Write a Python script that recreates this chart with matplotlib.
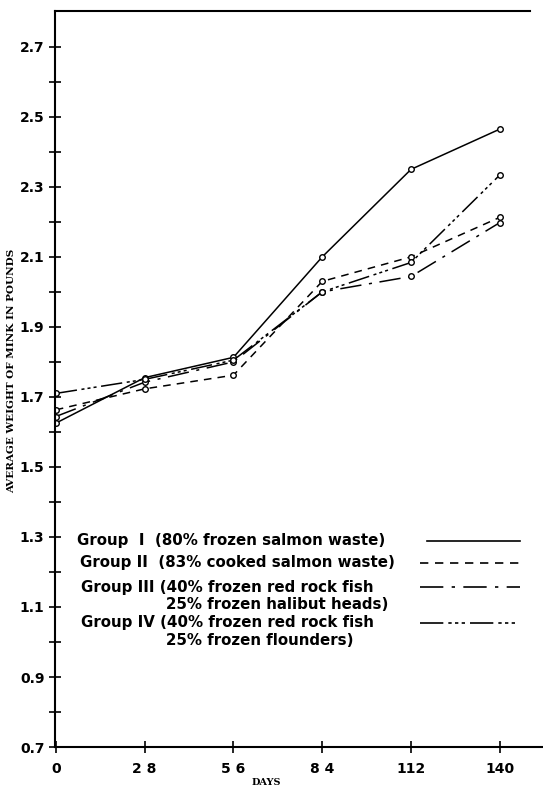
import matplotlib
matplotlib.use("Agg")
import matplotlib.pyplot as plt
import numpy as np

# Average weight of mink (lb) by day
days = [0, 28, 56, 84, 112, 140]
group_1 = [1.625, 1.755, 1.813, 2.10, 2.35, 2.465]
group_2 = [1.663, 1.723, 1.762, 2.03, 2.10, 2.213]
group_3 = [1.644, 1.742, 1.800, 2.00, 2.044, 2.198]
group_4 = [1.710, 1.750, 1.805, 2.00, 2.084, 2.334]

first_lines = [
    "Group  I  (80% frozen salmon waste)",
    "Group II  (83% cooked salmon waste)",
    "Group III (40% frozen red rock fish",
    "Group IV (40% frozen red rock fish",
]
second_lines = ["", "", "25% frozen halibut heads)", "25% frozen flounders)"]
styles = ["-", (0, (5, 4)), (0, (14, 5, 2, 5)), (0, (14, 3, 2, 2, 2, 2, 2, 3))]

fig = plt.figure(figsize=(5.43, 7.9), dpi=100)
ax = fig.add_axes([0.101, 0.0544, 0.899, 0.932])

for vals, ls in zip([group_1, group_2, group_3, group_4], styles):
    ax.plot(days, vals, color="black", lw=1.1, linestyle=ls, marker="o",
            markersize=4, markerfacecolor="white", markeredgewidth=1.0)

ax.set_xlim(-0.3, 153.6)
ax.set_ylim(0.7, 2.803)
ax.set_yticks(np.arange(0.7, 2.71, 0.2))
ax.set_yticklabels(["0.7", "0.9", "1.1", "1.3", "1.5", "1.7", "1.9", "2.1", "2.3", "2.5", "2.7"])
ax.set_yticks(np.arange(0.8, 2.61, 0.2), minor=True)
ax.set_xticks(days)
ax.set_xticklabels(["0", "2 8", "5 6", "8 4", "112", "140"])
ax.tick_params(axis="both", which="both", direction="inout", length=9, width=1.2,
               labelsize=10, pad=3)
ax.tick_params(axis="x", pad=6)
for lab in ax.get_xticklabels() + ax.get_yticklabels():
    lab.set_fontweight("bold")

ax.spines["right"].set_visible(False)
ax.spines["top"].set_bounds(-0.3, 149.5)
for s in ["left", "bottom", "top"]:
    ax.spines[s].set_linewidth(1.5)

# legend drawn by hand
row_y = [0.280, 0.250, 0.217, 0.169]
row_x = [0.045, 0.052, 0.054, 0.054]
line_x0 = [0.763, 0.748, 0.748, 0.748]
for t1, t2, ls, tx, ty, lx in zip(first_lines, second_lines, styles, row_x, row_y, line_x0):
    ax.text(tx, ty, t1, transform=ax.transAxes, fontsize=10.8, fontweight="bold",
            va="center", ha="left")
    if t2:
        ax.text(0.228, ty - 0.024, t2, transform=ax.transAxes, fontsize=10.8,
                fontweight="bold", va="center", ha="left")
    ax.plot([lx, 0.953], [ty, ty], transform=ax.transAxes,
            color="black", lw=1.2, linestyle=ls)

fig.text(0.022, 0.53, "AVERAGE WEIGHT OF MINK IN POUNDS", rotation=90,
         family="DejaVu Serif", fontweight="bold", fontsize=7.5, va="center", ha="center")
fig.text(0.49, 0.01, "DAYS", family="DejaVu Serif", fontweight="bold", fontsize=7,
         ha="center", va="center")

fig.savefig("out.png", dpi=100)
